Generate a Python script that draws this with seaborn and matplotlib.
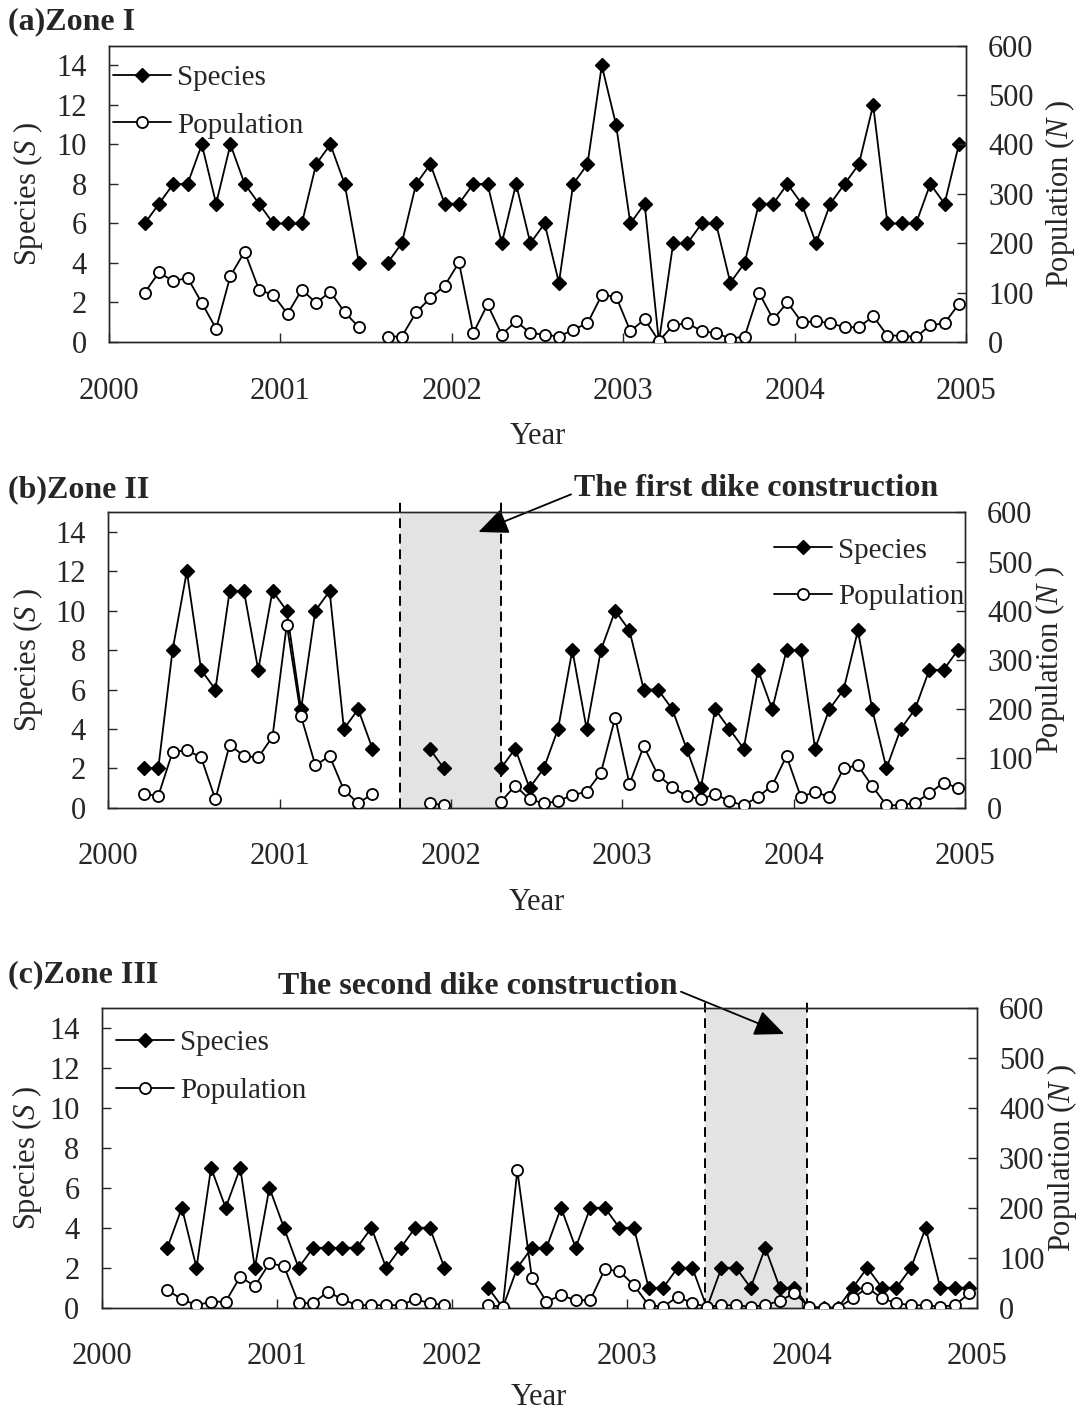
import numpy as np
import pandas as pd
import matplotlib
matplotlib.use("Agg")
import matplotlib.pyplot as plt
import seaborn as sns
from matplotlib.lines import Line2D

nan = np.nan

# monthly samples, Jan 2000 .. Dec 2004 (nan = no sample)
species_a = [nan, nan, 6, 7, 8, 8, 10, 7, 10, 8, 7, 6,
             6, 6, 9, 10, 8, 4, nan, 4, 5, 8, 9, 7,
             7, 8, 8, 5, 8, 5, 6, 3, 8, 9, 14, 11,
             6, 7, 0, 5, 5, 6, 6, 3, 4, 7, 7, 8,
             7, 5, 7, 8, 9, 12, 6, 6, 6, 8, 7, 10]
pop_a = [nan, nan, 100, 141, 123, 130, 79, 27, 134, 183, 106, 95,
         57, 106, 79, 102, 60, 30, nan, 11, 11, 60, 89, 114,
         161, 18, 76, 15, 42, 18, 15, 11, 25, 38, 95, 92,
         22, 46, 2, 34, 38, 22, 18, 7, 11, 100, 46, 80,
         40, 42, 38, 30, 30, 52, 13, 13, 10, 34, 38, 77]

species_b = [nan, nan, 2, 2, 8, 12, 7, 6, 11, 11, 7, 11,
             10, 5, 10, 11, 4, 5, 3, nan, nan, nan, 3, 2,
             nan, nan, nan, 2, 3, 1, 2, 4, 8, 4, 8, 10,
             9, 6, 6, 5, 3, 1, 5, 4, 3, 7, 5, 8,
             8, 3, 5, 6, 9, 5, 2, 4, 5, 7, 7, 8]
pop_b = [nan, nan, 28, 24, 113, 117, 102, 17, 128, 105, 102, 144,
         372, 186, 86, 105, 36, 9, 28, nan, nan, nan, 9, 5,
         nan, nan, nan, 12, 45, 17, 9, 13, 26, 32, 71, 183,
         48, 125, 66, 42, 24, 17, 28, 13, 5, 22, 45, 105,
         22, 32, 22, 80, 86, 44, 5, 5, 10, 29, 51, 40]

species_c = [nan, nan, nan, nan, 3, 5, 2, 7, 5, 7, 2, 6,
             4, 2, 3, 3, 3, 3, 4, 2, 3, 4, 4, 2,
             nan, nan, 1, 0, 2, 3, 3, 5, 3, 5, 5, 4,
             4, 1, 1, 2, 2, 0, 2, 2, 1, 3, 1, 1,
             0, 0, 0, 1, 2, 1, 1, 2, 4, 1, 1, 1]
pop_c = [nan, nan, nan, nan, 35, 17, 5, 12, 12, 62, 43, 89,
         83, 9, 9, 32, 17, 5, 5, 5, 5, 17, 9, 5,
         nan, nan, 5, 2, 275, 59, 12, 25, 15, 15, 77, 73,
         45, 5, 2, 22, 9, 2, 5, 5, 2, 5, 14, 29,
         2, 0, 0, 19, 40, 19, 9, 5, 5, 2, 5, 29]

titles = ["(a)Zone I", "(b)Zone II", "(c)Zone III"]
dike_periods = [None, (2001.70, 2002.29), (2003.45, 2004.03)]
year_ticks = [2000, 2001, 2002, 2003, 2004, 2005]

sns.set_style("ticks")
plt.rcParams["font.family"] = ["Liberation Serif", "DejaVu Serif"]
plt.rcParams["mathtext.fontset"] = "custom"
plt.rcParams["mathtext.rm"] = "Liberation Serif"
plt.rcParams["mathtext.it"] = "Liberation Serif:italic"
plt.rcParams["axes.linewidth"] = 1.0

W, H = 1080, 1415
fig = plt.figure(figsize=(W / 100, H / 100), dpi=100)

# axes boxes in pixels: left, right, top, bottom
boxes = [(109, 966, 45.7, 342), (108.3, 965, 512.3, 807.7), (101.7, 976.7, 1008, 1307.7)]
title_y = [22, 490, 975]
ylab_left = [28, 28, 27]
ylab_right = [1060, 1050, 1062]
legend_anchor = [(-0.016, 0.995), (1.02, 0.975), (-0.004, 0.985)]
fs = 22
lfs = 21

months = 2000 + (np.arange(60) + 0.5) / 12


def segments(vals):
    v = np.asarray(vals, dtype=float)
    seg = np.cumsum(np.isnan(v))
    d = pd.DataFrame({"year": months, "value": v, "seg": seg})
    return d.dropna()


panels = [(species_a, pop_a), (species_b, pop_b), (species_c, pop_c)]

for i, (sp, pop) in enumerate(panels):
    l, r, t, b = boxes[i]
    ax = fig.add_axes([l / W, 1 - b / H, (r - l) / W, (b - t) / H])
    ax2 = ax.twinx()

    if dike_periods[i] is not None:
        x0, x1 = dike_periods[i]
        ax.axvspan(x0, x1, color="#e3e3e3", lw=0, zorder=0)
        for xv in (x0, x1):
            ax.plot([xv, xv], [0, 15.5], ls=(0, (5, 3)), color="black",
                    lw=1.4, clip_on=False, zorder=1)

    sns.lineplot(data=segments(sp), x="year", y="value", units="seg", estimator=None,
                 ax=ax, color="black", lw=1.3, marker="D", markersize=7.5,
                 markerfacecolor="black", markeredgecolor="black",
                 markeredgewidth=1.0, legend=False, zorder=3)
    sns.lineplot(data=segments(pop), x="year", y="value", units="seg", estimator=None,
                 ax=ax2, color="black", lw=1.3, marker="o", markersize=8,
                 markerfacecolor="white", markeredgecolor="black",
                 markeredgewidth=1.3, legend=False, zorder=3)

    ax.set_xlim(2000, 2005)
    ax.set_ylim(0, 15)
    ax2.set_ylim(0, 600)
    ax.set_xticks(year_ticks)
    ax.set_xticklabels([str(y) for y in year_ticks])
    ax.set_yticks(range(0, 15, 2))
    ax2.set_yticks(range(0, 601, 100))
    ax.tick_params(axis="both", direction="in", length=6.5, width=1, labelsize=fs,
                   right=False, top=False)
    ax.tick_params(axis="x", pad=25)
    ax.tick_params(axis="y", pad=16)
    ax2.tick_params(axis="y", direction="in", length=6.5, width=1, labelsize=fs, pad=16)
    for a in (ax, ax2):
        for s in a.spines.values():
            s.set_visible(True)
            s.set_linewidth(1.0)

    ax.set_xlabel("Year", fontsize=lfs + 1, va="center")
    ax.xaxis.set_label_coords(0.5, -(95 if i < 2 else 90) / (b - t))
    ax.set_ylabel("Species ($S$ )", fontsize=lfs + 1, va="center")
    ax.yaxis.set_label_coords((ylab_left[i] - l) / (r - l), 0.5)
    ax2.set_ylabel("Population ($N$ )", fontsize=lfs + 1, va="center")
    ax2.yaxis.set_label_coords((ylab_right[i] - l) / (r - l), 0.5)

    fig.text(8 / W, 1 - title_y[i] / H, titles[i], fontsize=23, fontweight="bold",
             ha="left", va="center")

    handles = [
        Line2D([], [], color="black", lw=1.3, marker="D", markersize=7.5,
               markerfacecolor="black", markeredgecolor="black"),
        Line2D([], [], color="black", lw=1.3, marker="o", markersize=8,
               markerfacecolor="white", markeredgecolor="black", markeredgewidth=1.3),
    ]
    ax2.legend(handles, ["Species", "Population"],
               loc="upper right" if i == 1 else "upper left",
               bbox_to_anchor=legend_anchor[i], frameon=False, fontsize=lfs,
               handlelength=2.0, handletextpad=0.2,
               labelspacing=0.68 if i == 1 else 0.72, borderaxespad=0.2)

    if i == 1:
        ax.annotate("The first dike construction", xy=(2002.16, 14.0),
                    xytext=(2002.72, 16.2), ha="left", va="center",
                    fontsize=23, fontweight="bold", annotation_clip=False,
                    arrowprops=dict(arrowstyle="-|>,head_length=0.8,head_width=0.35",
                                    color="black", lw=1.3, shrinkA=0, shrinkB=0,
                                    relpos=(0, 0.35)))
    if i == 2:
        ax.annotate("The second dike construction", xy=(2003.90, 13.7),
                    xytext=(2002.15, 16.1), ha="center", va="center",
                    fontsize=23, fontweight="bold", annotation_clip=False,
                    arrowprops=dict(arrowstyle="-|>,head_length=0.8,head_width=0.35",
                                    color="black", lw=1.3, shrinkA=0, shrinkB=0,
                                    relpos=(1, 0.35)))

fig.savefig("out.png", dpi=100)
